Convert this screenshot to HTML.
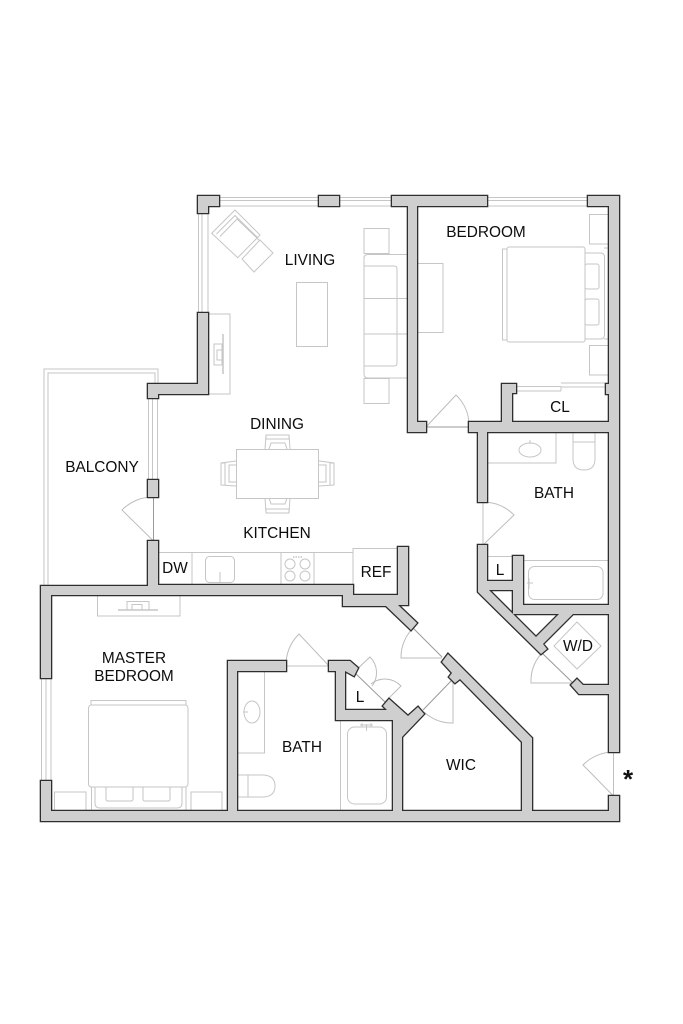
<!DOCTYPE html>
<html>
<head>
<meta charset="utf-8">
<style>
html,body{margin:0;padding:0;background:#fff;width:683px;height:1024px;overflow:hidden}
svg{display:block}
text{font-family:"Liberation Sans",sans-serif;font-size:15.4px;fill:#0d0d0d;text-anchor:middle}
.f{fill:none;stroke:#c6c6c6;stroke-width:1}
.w{fill:#fff;stroke:#c6c6c6;stroke-width:1}
.d{fill:none;stroke:#bdbdbd;stroke-width:1}
.j{fill:none;stroke:#9a9a9a;stroke-width:1}
</style>
</head>
<body>
<svg width="683" height="1024" viewBox="0 0 683 1024" xmlns="http://www.w3.org/2000/svg">
<rect width="683" height="1024" fill="#fff"/>

<!-- windows -->
<g class="f" stroke-width="1.2">
<path d="M219 197.5H319M219 200.5H319M219 206H319M339 197.5H392M339 200.5H392M339 206H392M487 197.5H588M487 200.5H588M487 206H588"/>
<path d="M198.5 213V313M202 213V313M208 206V313"/>
<path d="M148.5 398V480M152.5 398V480M157.5 398V480"/>
<path d="M41.5 678V781M46 678V781M51 678V781"/>
<path d="M44 586V369H158V384M48 586V373H155V384"/>
</g>

<!-- living -->
<g class="f">
<path d="M235 210L260 235L237.7 257.7L211.7 233.3Z"/>
<path d="M216.5 234L235 215.5L258 238"/>
<path d="M220 236.5L237 219L259.5 240.5"/>
<path d="M260 240L273 253L254 272L242 259Z"/>
<rect x="296.500" y="282.500" width="31" height="64"/>
<rect x="364" y="228.500" width="25" height="25"/>
<rect x="364" y="378.500" width="25" height="25"/>
<path d="M408 254.500H368Q364 254.500 364 258V374Q364 378 368 378H408"/>
<path d="M364 266H394Q397 266 397 269V363Q397 366 394 366H364"/>
<path d="M364 298.500H408M364 334H408"/>
<rect x="208" y="314" width="22" height="80"/>
<path d="M223 334V374" stroke-width="1.500"/>
<rect x="214" y="344" width="8" height="21"/>
<rect x="217" y="350" width="5" height="10"/>
</g>

<!-- bedroom furniture -->
<g class="f">
<rect x="417" y="263.500" width="26" height="69"/>
<rect x="507" y="247" width="78" height="95" rx="2"/>
<path d="M507 249H502.500V340H507"/>
<path d="M585 253H600Q604.500 253 604.500 257V335Q604.500 339 600 339H585"/>
<rect x="585" y="264" width="14" height="25" rx="2"/>
<rect x="585" y="299" width="14" height="26" rx="2"/>
<path d="M609 214.500H589.500V244H609M609 345.500H589.500V375H609"/>
<path d="M604 248H609M604 339H609"/>
<path d="M516 386.500H561M516 391H561M561 386.500V391M561 383H606M561 387H606"/>
</g>

<!-- dining -->
<g class="f">
<rect x="236.500" y="449.500" width="82" height="49"/>
<path d="M236 461L221 463V485L236 486M221 463H225V485M236 465H229V482H236"/>
<path d="M319 461L334 463V485L319 486M334 463H330V485M319 465H326V482H319"/>
<path d="M265 449L266 435H289L290 449M266 435V439H289V435M269 449L271 443H285L287 449"/>
<path d="M265 498L266 513H289L290 498M266 513V509H289V513M269 498L271 504H285L287 498"/>
</g>

<!-- kitchen -->
<g class="f">
<path d="M158 552.500H353M192 552.500V585M281 552.500V585M314 552.500V585"/>
<rect x="205.500" y="556.500" width="29" height="26" rx="4"/>
<path d="M220 572V582"/>
<circle cx="290" cy="564" r="5"/><circle cx="305" cy="564" r="5"/>
<circle cx="290" cy="576" r="5"/><circle cx="305" cy="576" r="5"/>
<path d="M293 557H303" stroke-dasharray="1.500 1" stroke-width="1.500"/>
<path d="M353 585V548.500H398"/>
</g>

<!-- upper bath -->
<g class="f">
<path d="M487 463H556V432"/>
<ellipse cx="530" cy="450" rx="11" ry="7"/>
<path d="M530 440V444"/>
<path d="M573 432V442H595V432"/>
<path d="M573 442V459Q573 470 584 470Q595 470 595 459V442"/>
<path d="M487 556.500H513M523 560.500H609"/>
<rect x="528.500" y="566.500" width="74.500" height="33" rx="6"/>
<path d="M527 583H533M529 578V589"/>
<path d="M577 622L601 646L577 669L554 646Z"/>
</g>

<!-- master bedroom -->
<g class="f">
<path d="M97.500 595V616H180V595"/>
<path d="M118 610H158" stroke-width="1.400"/>
<path d="M127 610V601.500H149V610M132 610V604.500H142V610"/>
<rect x="88.500" y="705" width="99.500" height="82" rx="3"/>
<path d="M91 705V700.500H186V705"/>
<path d="M91.500 787V811M186 787V811"/>
<path d="M95 787V803Q95 808 100 808H177Q182 808 182 803V787"/>
<path d="M106 787V799Q106 801 108 801H131Q133 801 133 799V787"/>
<path d="M143 787V799Q143 801 145 801H168Q170 801 170 799V787"/>
<path d="M54.500 811V792H86V811M191 811V792H222V811"/>
</g>

<!-- master bath -->
<g class="f">
<path d="M237 753H264.500V671"/>
<ellipse cx="252" cy="712" rx="8" ry="11"/>
<path d="M243 712H248"/>
<path d="M237 775H248V797H237"/>
<path d="M248 775H262Q275 775 275 786Q275 797 262 797H248"/>
<path d="M340.500 720V811"/>
<rect x="347.500" y="727" width="39" height="77" rx="7"/>
<path d="M360 725H373M362 723V727M371 723V727M366.500 724V731"/>
</g>

<!-- doors -->
<g class="d">
<path d="M426 427L456 395A42 42 0 0 1 469 424"/>
<path d="M153.500 541L122 510A43 43 0 0 1 153.500 497"/>
<path d="M483 545L514 515A43 43 0 0 0 483 502"/>
<path d="M573 683H531A42 42 0 0 1 541 654"/>
<path d="M613.500 796L583 765A43 43 0 0 1 613.500 752"/>
<path d="M329 666L299 634A43 43 0 0 0 286 666"/>
<path d="M354 672L370 657A22 22 0 0 1 372 686"/>
<path d="M385 702L401 686A22 22 0 0 0 371 684"/>
<path d="M453 680V723A42 42 0 0 1 424 712"/>
<path d="M442 658H401A42 42 0 0 1 413 628"/>
</g>
<g class="j">
<path d="M426 427H469"/>
<path d="M153.500 497V541"/>
<path d="M483 502V545" stroke="#c0c0c0"/>
<path d="M542 653L573 683"/>
<path d="M613.500 752V796" stroke="#c0c0c0"/>
<path d="M286 666H329" stroke="#c0c0c0"/>
<path d="M354 672L385 702"/>
<path d="M423 710L452 680"/>
<path d="M413 628L442 657"/>
</g>

<!-- walls -->
<defs>
<g id="walls">
<path d="M198 196H219V206H208V213H198Z"/>
<path d="M319 196H339V206H319Z"/>
<path d="M392 196H487V206H417V422H426V432H408V206H392Z"/>
<path d="M588 196H619V752H609V206H588Z"/>
<path d="M198 313H208V394H158V398H148V384H198Z"/>
<path d="M148 480H158V497H148Z"/>
<path d="M41 586H148V541H158V585H353V595H398V547H408V605H398L417 623L411 630L386 606H343V595H51V678H41Z"/>
<path d="M41 781H51V811H228V661H286V671H237V811H609V796H619V821H41Z"/>
<path d="M329 661H350L358 668L354 676L345 671V710H387L383 706L389 699L408 716L418 707L424 714L402 737V811H393V720H336V671H329Z"/>
<path d="M442 662L448 654L532 738V811H522V742L460 679L455 683L449 677L452 673Z"/>
<path d="M502 384H516V393H512V422H609V432H487V502H478V432H469V422H502Z"/>
<path d="M606 384H609V394H606Z"/>
<path fill-rule="evenodd" d="M478 545H487V581H513V556H523V605H609V614H573L543 644L547 649L541 654L478 592ZM489 590H513V614ZM513 614H559L536 637Z"/>
<path d="M577 679L583 685H609V694H579L571 685Z"/>
</g>
</defs>
<use href="#walls" fill="#2e2e2e" stroke="#2e2e2e" stroke-width="2.6"/>
<use href="#walls" fill="#cfcfcf" stroke="none"/>

<!-- labels -->
<text x="310" y="265">LIVING</text>
<text x="486" y="237">BEDROOM</text>
<text x="560" y="412">CL</text>
<text x="277" y="429">DINING</text>
<text x="102" y="472">BALCONY</text>
<text x="175" y="573">DW</text>
<text x="277" y="538">KITCHEN</text>
<text x="376" y="577">REF</text>
<text x="554" y="498">BATH</text>
<text x="500" y="575">L</text>
<text x="578" y="651">W/D</text>
<text x="461" y="770">WIC</text>
<text x="134" y="663">MASTER</text>
<text x="134" y="681">BEDROOM</text>
<text x="302" y="752">BATH</text>
<text x="360" y="702">L</text>
<text x="628" y="788" style="font-size:26px;font-weight:bold;fill:#111">*</text>
</svg>
</body>
</html>
